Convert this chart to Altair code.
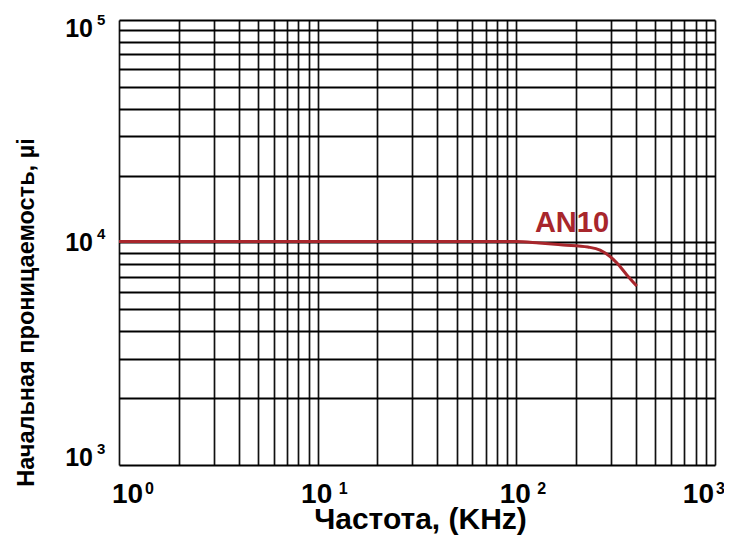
import altair as alt
import pandas as pd

# ---- data ----
freq = [1, 100, 130, 172, 229, 264, 321, 360, 404]          # KHz
mu = [10100, 10100, 9950, 9750, 9540, 9250, 8090, 7150, 6370]

x_grid = [1, 2, 3, 4, 5, 6, 7, 8, 9,
          10, 20, 30, 40, 50, 60, 70, 80, 90,
          100, 200, 300, 400, 500, 600, 700, 800, 900, 1000]
y_grid = [1000, 2000, 3000, 4000, 5000, 6000, 7000, 8000, 9000,
          10000, 20000, 30000, 40000, 50000, 60000, 70000, 80000, 90000, 100000]

x_ticks = [1, 10, 100, 1000]
x_exps = ["0", "1", "2", "3"]
y_ticks = [1000, 10000, 100000]
y_exps = ["3", "4", "5"]

series_name = "AN10"
label_pos = [124, 11150]

x_title = "Частота, (KHz)"
y_title = "Начальная проницаемость, µi"

RED = "#a8262c"
FONT = "Liberation Sans"
W, H = 596, 445

xs = alt.Scale(type="log", domain=[1, 1000], nice=False)
ys = alt.Scale(type="log", domain=[1000, 100000], nice=False)

df = pd.DataFrame({"f": freq, "m": mu})

line = alt.Chart(df).mark_line(color=RED, strokeWidth=3, interpolate="monotone").encode(
    x=alt.X("f:Q", scale=xs,
            axis=alt.Axis(values=x_grid, labels=False, ticks=False, domain=False,
                          grid=True, gridColor="#111111", gridWidth=1.7,
                          title=x_title, titleFont=FONT, titleFontSize=30,
                          titleFontWeight="bold", titleColor="black",
                          titleX=301, titleY=63, titleBaseline="alphabetic",
                          titleAlign="center")),
    y=alt.Y("m:Q", scale=ys,
            axis=alt.Axis(values=y_grid, labels=False, ticks=False, domain=False,
                          grid=True, gridColor="black", gridWidth=2,
                          title=y_title, titleFont=FONT,
                          titleFontSize=23.5, titleFontWeight="bold", titleColor="black",
                          titleAngle=-90, titleX=-86, titleY=292,
                          titleBaseline="alphabetic", titleAlign="center")),
)

layers = [line]

# series label
lab_df = pd.DataFrame({"f": [label_pos[0]], "m": [label_pos[1]], "t": [series_name]})
layers.append(alt.Chart(lab_df).mark_text(
    font=FONT, fontSize=29, fontWeight="bold", color=RED, align="left",
    baseline="alphabetic").encode(
    x=alt.X("f:Q", scale=xs), y=alt.Y("m:Q", scale=ys), text="t:N"))

# x tick labels: base "10" and exponent
xdf = pd.DataFrame({"v": x_ticks, "e": x_exps})
x_styles = {1: ("left", -7, 26), 10: ("center", -1, 21), 100: ("center", -1, 21),
            1000: ("right", -1, 1)}
for v in x_ticks:
    align, dxb, dxe = x_styles[v]
    sub = alt.Chart(xdf).transform_filter(alt.datum.v == v)
    layers.append(sub.mark_text(font=FONT, fontSize=28, fontWeight="bold", color="black",
                                align=align, baseline="alphabetic", dx=dxb, dy=38).encode(
        x=alt.X("v:Q", scale=xs), y=alt.value(H), text=alt.value("10")))
    layers.append(sub.mark_text(font=FONT, fontSize=16, fontWeight="bold", color="black",
                                align="left", baseline="alphabetic", dx=dxe, dy=28.5).encode(
        x=alt.X("v:Q", scale=xs), y=alt.value(H), text="e:N"))

# y tick labels
ydf = pd.DataFrame({"v": y_ticks, "e": y_exps})
y_styles = {1000: 1, 10000: 8, 100000: 17}
for v in y_ticks:
    dyb = y_styles[v]
    sub = alt.Chart(ydf).transform_filter(alt.datum.v == v)
    layers.append(sub.mark_text(font=FONT, fontSize=25, fontWeight="bold", color="black",
                                align="right", baseline="alphabetic", dy=dyb).encode(
        x=alt.value(-26), y=alt.Y("v:Q", scale=ys), text=alt.value("10")))
    layers.append(sub.mark_text(font=FONT, fontSize=15, fontWeight="bold", color="black",
                                align="left", baseline="alphabetic", dy=dyb - 12).encode(
        x=alt.value(-22), y=alt.Y("v:Q", scale=ys), text="e:N"))

chart = alt.layer(*layers).properties(
    width=W, height=H,
    padding={"left": 111, "top": 12, "right": 9, "bottom": 71},
    autosize=alt.AutoSizeParams(type="none"),
).configure_view(stroke="black", strokeWidth=2.5).configure(background="white")

chart.save("out.html", embed_options={"renderer": "svg", "actions": False})
